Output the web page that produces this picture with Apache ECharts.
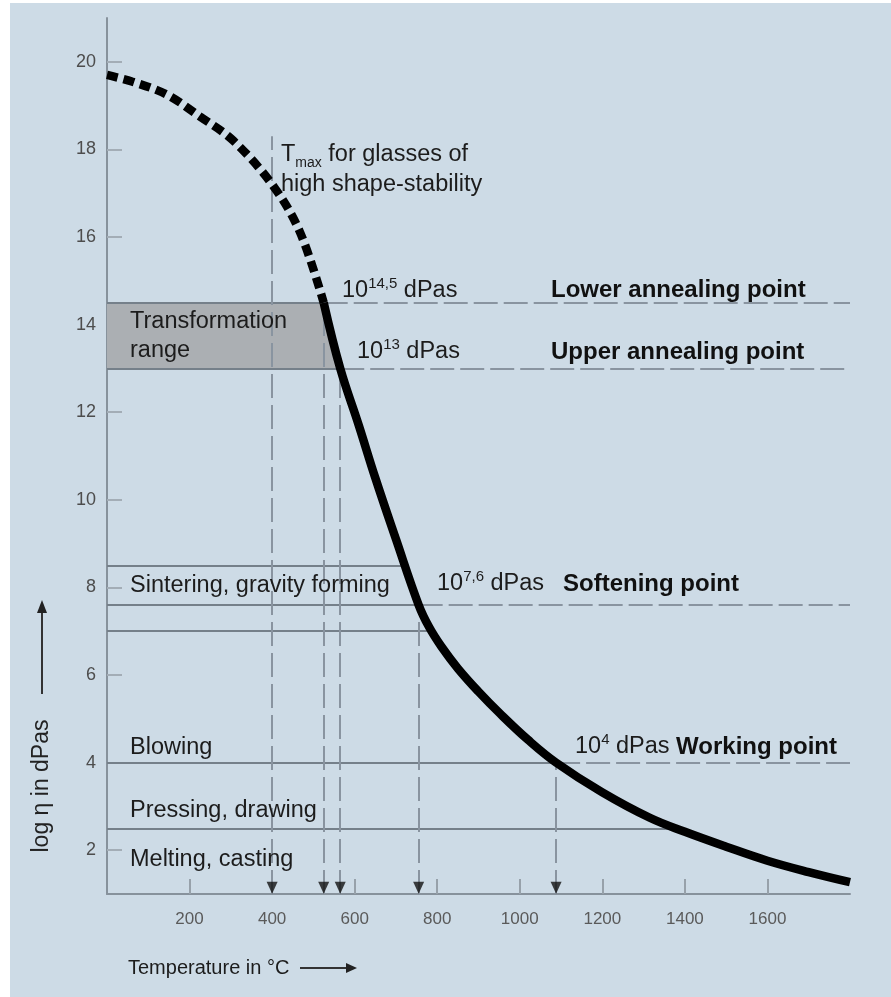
<!DOCTYPE html>
<html><head><meta charset="utf-8">
<script src="https://cdn.jsdelivr.net/npm/echarts@6/dist/echarts.min.js"></script>
<style>html,body{margin:0;padding:0;background:#fff}#c{width:891px;height:997px}</style>
</head><body><div id="c"></div>
<script>
// ---- data ----
const dashedTemps  = [0, 60, 145, 225, 306, 404, 468, 525];
const dashedValues = [19.7, 19.55, 19.25, 18.75, 18.2, 17.15, 16.1, 14.5];
const solidTemps   = [525, 565, 610, 650, 700, 755, 780, 810, 850, 900, 952, 1020, 1088, 1200, 1315, 1400, 1500, 1600, 1700, 1800];
const solidValues  = [14.5, 13.0, 11.7, 10.5, 9.1, 7.6, 7.1, 6.65, 6.15, 5.62, 5.12, 4.52, 4.0, 3.32, 2.74, 2.42, 2.08, 1.76, 1.5, 1.27];

const xTickValues = [200, 400, 600, 800, 1000, 1200, 1400, 1600];
const yTickValues = [2, 4, 6, 8, 10, 12, 14, 16, 18, 20];

// horizontal reference levels: solid from axis to the curve
const solidLevels = [14.5, 13, 8.5, 7.6, 7.0, 4.0, 2.5];
const solidEnds   = [525, 565, 722, 755, 785, 1088, 1378];
// dashed continuation to the right edge
const dashedLevels = [14.5, 13, 7.6, 4.0];
const dashedStarts = [525, 565, 755, 1088];
const xMax = 1800, yMin = 1, yMax = 21;

// vertical dashed lines with arrows on the temperature axis
const markTemps = [400, 525, 565, 755, 1088];
const markTops  = [18.3, 14.5, 13, 7.6, 4.0];
const markerY = 1.14;

// transformation range box
const boxTemps = [525, 565];
const boxLevels = [14.5, 13];

// ---- chart ----
const FF = '"Liberation Sans", Arial, Helvetica, sans-serif';
const chart = echarts.init(document.getElementById('c'));
const zip = (a, b) => a.map((v, i) => [v, b[i]]);

const solidCol = '#75808a', dashCol = '#8994a0';
const mlData = [];
solidLevels.forEach((lv, i) => mlData.push([{coord: [0, lv], lineStyle: {color: solidCol, width: 2, type: 'solid'}}, {coord: [solidEnds[i], lv]}]));
dashedLevels.forEach((lv, i) => mlData.push([{coord: [dashedStarts[i], lv], lineStyle: {color: dashCol, width: 2, type: [24, 6]}}, {coord: [xMax, lv]}]));
markTemps.forEach((t, i) => mlData.push([{coord: [t, yMin], lineStyle: {color: dashCol, width: 2, type: [24, 7]}}, {coord: [t, markTops[i]]}]));

const boxPts = [[0, boxLevels[0]], [boxTemps[0], boxLevels[0]], [boxTemps[1], boxLevels[1]], [0, boxLevels[1]]];

const tc = '#1c1c1c';
function txt(x, y, text, extra) {
  return {type: 'text', x: x, y: y, z: 100,
    style: Object.assign({text: text, fontSize: 23.5, fontFamily: FF, fill: tc, verticalAlign: 'middle', align: 'left'}, extra || {})};
}
const supRich = {
  n: {fontSize: 23.5, lineHeight: 30, fontFamily: FF, fill: tc},
  s: {fontSize: 15, lineHeight: 12, verticalAlign: 'top', fontFamily: FF, fill: tc},
  b: {fontSize: 24, lineHeight: 30, fontFamily: FF, fill: '#111', fontWeight: 'bold'},
  sub: {fontSize: 14, lineHeight: 12, verticalAlign: 'bottom', fontFamily: FF, fill: tc}
};

chart.setOption({
  backgroundColor: '#cddbe6',
  animation: false,
  grid: {left: 107, top: 18, right: 41, bottom: 103},
  xAxis: {type: 'value', min: 0, max: xMax, interval: 200,
    axisLine: {show: true, onZero: false, lineStyle: {color: '#87929c', width: 2}},
    axisTick: {show: true, inside: true, length: 15, customValues: xTickValues, lineStyle: {color: '#97a1aa', width: 2}},
    axisLabel: {show: true, customValues: xTickValues, fontSize: 17, color: '#5a5a5a', margin: 17, fontFamily: FF,
      formatter: v => String(v)},
    splitLine: {show: false}},
  yAxis: {type: 'value', min: yMin, max: yMax,
    axisLine: {show: true, onZero: false, lineStyle: {color: '#87929c', width: 2}},
    axisTick: {show: true, inside: true, length: 15, customValues: yTickValues, lineStyle: {color: '#a3adb6', width: 2}},
    axisLabel: {show: true, customValues: yTickValues, fontSize: 18, color: '#4d4d4d', margin: 11, fontFamily: FF,
      formatter: v => String(v)},
    splitLine: {show: false}},
  series: [
    {type: 'custom', z: 1, silent: true, data: [[0, 0]],
      renderItem: function (params, api) {
        return {type: 'polygon', shape: {points: boxPts.map(p => api.coord(p))}, style: {fill: '#abafb3'}};
      }},
    {type: 'line', z: 3, data: [], silent: true,
      markLine: {silent: true, symbol: ['none', 'none'], label: {show: false}, animation: false, data: mlData}},
    {type: 'line', z: 10, data: zip(dashedTemps, dashedValues), showSymbol: false, smooth: 0.35,
      lineStyle: {color: '#000', width: 8.5, type: [11, 6], cap: 'butt'}},
    {type: 'line', z: 10, data: zip(solidTemps, solidValues), showSymbol: false, smooth: 0.4,
      lineStyle: {color: '#000', width: 8.5}},
    {type: 'scatter', z: 12, data: markTemps.map(t => [t, markerY]), symbol: 'triangle', symbolRotate: 180,
      symbolSize: [11, 12], itemStyle: {color: '#111'}, silent: true}
  ],
  graphic: [
    {type: 'rect', shape: {x: 0, y: 0, width: 10, height: 997}, style: {fill: '#fff'}, z: 200},
    {type: 'rect', shape: {x: 0, y: 0, width: 891, height: 3}, style: {fill: '#fff'}, z: 200},
    txt(281, 155, '{n|T}{sub|max}{n| for glasses of}', {rich: supRich}),
    txt(281, 185, 'high shape-stability'),
    txt(342, 291, '{n|10}{s|14,5}{n| dPas}', {rich: supRich}),
    txt(551, 290, 'Lower annealing point', {fontSize: 24, fontWeight: 'bold', fill: '#111'}),
    txt(130, 322, 'Transformation'),
    txt(130, 351, 'range'),
    txt(357, 352, '{n|10}{s|13}{n| dPas}', {rich: supRich}),
    txt(551, 352, 'Upper annealing point', {fontSize: 24, fontWeight: 'bold', fill: '#111'}),
    txt(130, 586, 'Sintering, gravity forming'),
    txt(437, 584, '{n|10}{s|7,6}{n| dPas}', {rich: supRich}),
    txt(563, 584, 'Softening point', {fontSize: 24, fontWeight: 'bold', fill: '#111'}),
    txt(130, 748, 'Blowing'),
    txt(575, 747, '{n|10}{s|4}{n| dPas }{b|Working point}', {rich: supRich}),
    txt(130, 811, 'Pressing, drawing'),
    txt(130, 860, 'Melting, casting'),
    // axis names
    {type: 'text', x: 42, y: 786, rotation: Math.PI / 2, z: 100,
      style: {text: 'log η in dPas', fontSize: 23, fontFamily: FF, fill: '#222', align: 'center', verticalAlign: 'middle'}},
    {type: 'line', z: 100, shape: {x1: 42, y1: 694, x2: 42, y2: 610}, style: {stroke: '#333', lineWidth: 2}},
    {type: 'polygon', z: 100, shape: {points: [[37, 613], [47, 613], [42, 600]]}, style: {fill: '#222'}},
    txt(128, 968, 'Temperature in °C', {fontSize: 20}),
    {type: 'line', z: 100, shape: {x1: 300, y1: 968, x2: 348, y2: 968}, style: {stroke: '#333', lineWidth: 2}},
    {type: 'polygon', z: 100, shape: {points: [[346, 963], [346, 973], [357, 968]]}, style: {fill: '#222'}}
  ]
});
</script></body></html>
